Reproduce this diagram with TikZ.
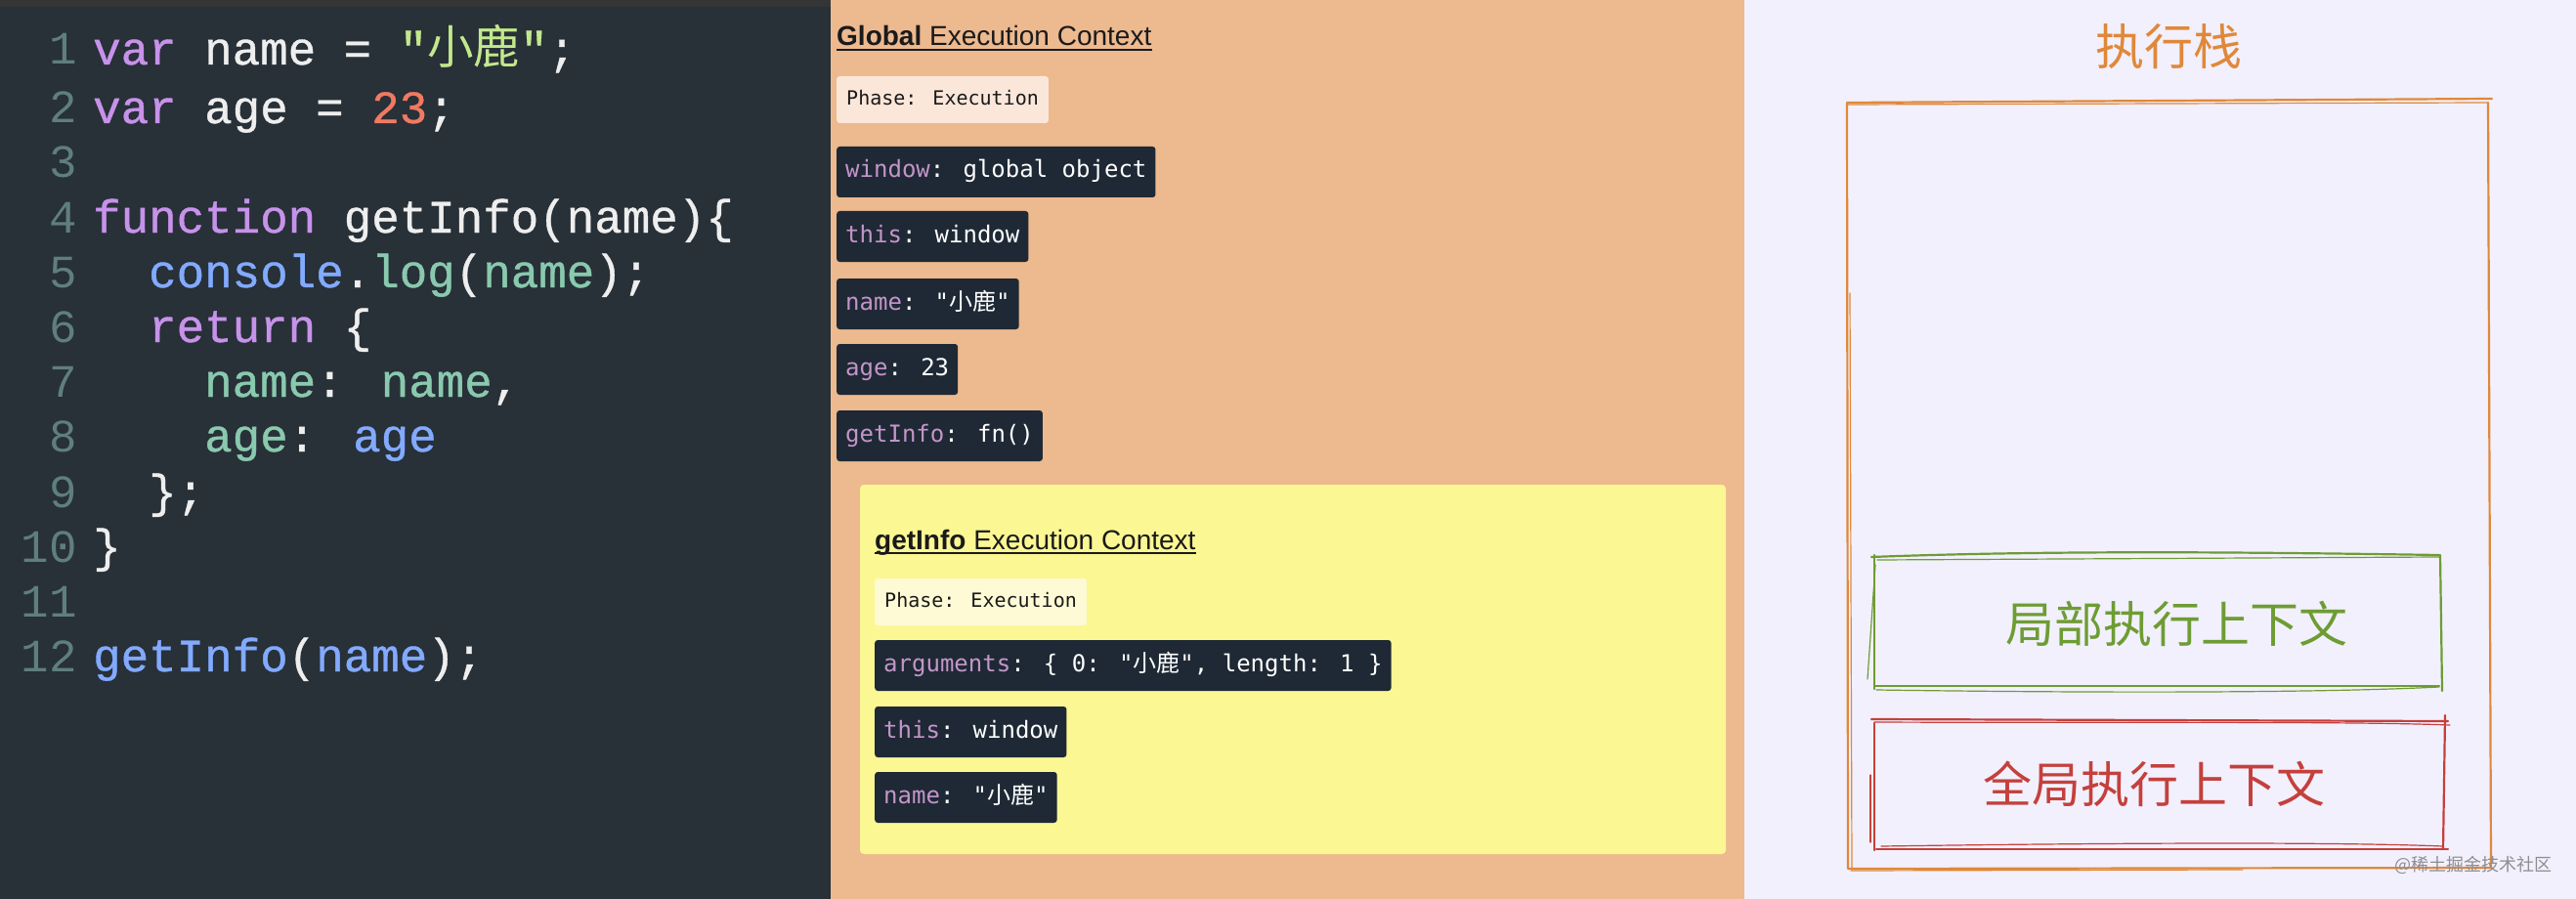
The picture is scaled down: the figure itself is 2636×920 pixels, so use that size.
\documentclass[tikz,border=0pt]{standalone}
\usepackage{fontspec}
\newfontfamily\codefont{Liberation Mono}[FakeBold=0.8]
\newfontfamily\numfont{Liberation Mono}
\newfontfamily\boxfont{DejaVu Sans Mono}
\newfontfamily\headfont{Liberation Sans}
\newfontfamily\cjk{Noto Sans CJK SC}
\definecolor{codebg}{HTML}{283038}
\definecolor{topband}{HTML}{353535}
\definecolor{cplain}{HTML}{EEEEEE}
\definecolor{ckw}{HTML}{C792EA}
\definecolor{cstr}{HTML}{C3E88D}
\definecolor{cnum}{HTML}{F07A62}
\definecolor{cblue}{HTML}{82AAFF}
\definecolor{cteal}{HTML}{89C9AE}
\definecolor{clno}{HTML}{5F7E80}
\definecolor{peach}{HTML}{EDB98F}
\definecolor{phaselight}{HTML}{FBE7DA}
\definecolor{boxdark}{HTML}{1E2935}
\definecolor{boxkey}{HTML}{C495C9}
\definecolor{yellowbg}{HTML}{FBF793}
\definecolor{phasecream}{HTML}{FEFAD5}
\definecolor{hdrtext}{HTML}{1A1A1A}
\definecolor{lavender}{HTML}{F2F0FC}
\definecolor{corange}{HTML}{E0883A}
\definecolor{cgreen}{HTML}{6E9C34}
\definecolor{cred}{HTML}{C4403C}
\definecolor{wmark}{HTML}{8E8E92}
\newcommand{\kw}[1]{\textcolor{ckw}{#1}}
\newcommand{\sv}[1]{\textcolor{cstr}{#1}}
\newcommand{\nm}[1]{\textcolor{cnum}{#1}}
\newcommand{\bl}[1]{\textcolor{cblue}{#1}}
\newcommand{\tl}[1]{\textcolor{cteal}{#1}}
\newcommand{\bk}[1]{\textcolor{boxkey}{#1}}
\begin{document}
\begin{tikzpicture}[x=1pt,y=-1pt,
  codeline/.style={anchor=base west, inner sep=0pt, text=cplain,
    font=\codefont\fontsize{47.5}{56}\selectfont},
  lineno/.style={anchor=base east, inner sep=0pt, text=clno,
    font=\numfont\fontsize{47.5}{56}\selectfont},
  darkbox/.style={anchor=west, fill=boxdark, rounded corners=3pt, text=white,
    inner xsep=9pt, inner ysep=15pt, text height=17pt, text depth=5pt,
    font=\boxfont\fontsize{24}{28}\selectfont},
  phasebox/.style={anchor=west, rounded corners=3pt, text=hdrtext,
    inner xsep=10pt, inner ysep=14.5pt, text height=15pt, text depth=4pt,
    font=\boxfont\fontsize{20}{24}\selectfont},
  hdr/.style={anchor=base west, inner sep=0pt, text=hdrtext,
    font=\headfont\fontsize{28}{32}\selectfont},
  bigcjk/.style={inner sep=0pt, font=\cjk\fontsize{50}{56}\selectfont},
  skthick/.style={line width=2.2pt, line cap=round, line join=round},
  skthin/.style={line width=1.2pt, line cap=round, line join=round},
]
\useasboundingbox (0,0) rectangle (2636,920);
% panels
\fill[codebg] (0,0) rectangle (850,920);
\fill[topband] (0,0) rectangle (850,7);
\fill[peach] (850,0) rectangle (1785,920);
\fill[lavender] (1785,0) rectangle (2636,920);

% ---------- code ----------
\foreach \n/\y in {1/66,2/126,3/182,4/238,5/294,6/350,7/406,8/462,9/519,10/575,11/631,12/687}
  \node[lineno] (ln\n) at (79,\y) {\n};
\node[codeline] (c1) at (95,66) {\kw{var} name = \sv{"{\cjk 小鹿}"};};
\node[codeline] (c2) at (95,126) {\kw{var} age = \nm{23};};
\node[codeline] (c4) at (95,238) {\kw{function} getInfo(name)\{};
\node[codeline] (c5) at (152,294) {\bl{console}.\tl{log}(\tl{name});};
\node[codeline] (c6) at (152,350) {\kw{return} \{};
\node[codeline] (c7) at (209,406) {\tl{name}: \tl{name},};
\node[codeline] (c8) at (209,462) {\tl{age}: \bl{age}};
\node[codeline] (c9) at (152,519) {\};};
\node[codeline] (c10) at (95,575) {\}};
\node[codeline] (c12) at (95,687) {\bl{getInfo}(\bl{name});};

% ---------- global execution context ----------
\node[hdr] (ghdr) at (856,47) {{\bfseries Global} Execution Context};
\draw[hdrtext, line width=1.5pt] ([yshift=-4pt]ghdr.base west) -- ([yshift=-4pt]ghdr.base east);
\node[phasebox, fill=phaselight] (gphase) at (856,102) {Phase: Execution};
\node[darkbox] (gwin) at (856,176) {\bk{window}: global object};
\node[darkbox] (gthis) at (856,242) {\bk{this}: window};
\node[darkbox] (gname) at (856,311) {\bk{name}: "{\cjk 小鹿}"};
\node[darkbox] (gage) at (856,378) {\bk{age}: 23};
\node[darkbox] (ggi) at (856,446) {\bk{getInfo}: fn()};

% ---------- getInfo execution context ----------
\fill[yellowbg, rounded corners=4pt] (880,496) rectangle (1766,874);
\node[hdr] (fhdr) at (895,562) {{\bfseries getInfo} Execution Context};
\draw[hdrtext, line width=1.5pt] ([yshift=-4pt]fhdr.base west) -- ([yshift=-4pt]fhdr.base east);
\node[phasebox, fill=phasecream] (fphase) at (895,616) {Phase: Execution};
\node[darkbox] (fargs) at (895,681) {\bk{arguments}: \{ 0: "{\cjk 小鹿}", length: 1 \}};
\node[darkbox] (fthis) at (895,749) {\bk{this}: window};
\node[darkbox] (fname) at (895,816) {\bk{name}: "{\cjk 小鹿}"};

% ---------- execution stack ----------
\node[bigcjk, text=corange] (stitle) at (2219,48) {执行栈};
% outer sketchy rectangle
\draw[corange, skthick] (1890,105) -- (2550,101);
\draw[corange, skthin] (1891,107) -- (2545,105);
\draw[corange, skthick] (1890,106) -- (1891,888);
\draw[corange, skthin] (1893,300) -- (1895,890);
\draw[corange, skthick] (2546,105) -- (2549,888);
\draw[corange, skthick] (1891,889) -- (2549,888);
\draw[corange, skthin] (1894,891) -- (2295,890);

% green box
\draw[cgreen, skthick] (1915,570) .. controls (2100,563) and (2300,565) .. (2496,568);
\draw[cgreen, skthin] (1921,573) -- (2496,570);
\draw[cgreen, skthick] (1918,568) -- (1918,705);
\draw[cgreen, skthin] (1919,578) -- (1911,695);
\draw[cgreen, skthick] (1918,702) -- (2496,702);
\draw[cgreen, skthin] (1920,706) .. controls (2200,710) and (2400,708) .. (2496,703);
\draw[cgreen, skthick] (2497,568) -- (2499,707);
\node[bigcjk, text=cgreen] (local) at (2227,638) {局部执行上下文};

% red box
\draw[cred, skthick] (1915,736) -- (2505,738);
\draw[cred, skthin] (1918,739) .. controls (2200,740) and (2400,738) .. (2507,742);
\draw[cred, skthick] (1918,740) -- (1918,870);
\draw[cred, skthin] (1914,793) -- (1914,862);
\draw[cred, skthick] (2502,732) -- (2500,869);
\draw[cred, skthick] (1920,869) -- (2505,869);
\draw[cred, skthin] (1925,866) .. controls (2200,862) and (2400,862) .. (2500,866);
\node[bigcjk, text=cred] (global) at (2204,802) {全局执行上下文};

% watermark
\node[inner sep=0pt, text=wmark, font=\cjk\fontsize{18}{20}\selectfont] (wm) at (2531,885) {@稀土掘金技术社区};
\end{tikzpicture}
\end{document}
